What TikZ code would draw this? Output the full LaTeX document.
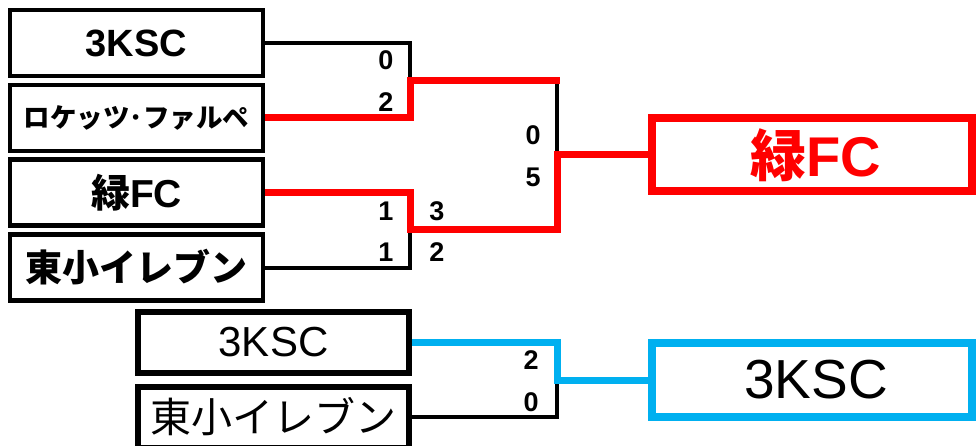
\documentclass[tikz,border=0pt]{standalone}
\usepackage{fontspec}
\setmainfont{Liberation Sans}
\newfontfamily\jp{Noto Sans CJK JP}
\definecolor{wred}{HTML}{FF0000}
\definecolor{wblue}{HTML}{00B0F0}
\begin{document}
\begin{tikzpicture}[x=1pt,y=-1pt,
  team/.style={draw=black,line width=4.5pt,minimum width=253pt,minimum height=66pt,inner sep=0pt,anchor=center},
  teamb/.style={draw=black,line width=6pt,minimum width=271pt,minimum height=61pt,inner sep=0pt,anchor=center},
  champ/.style={line width=8pt,minimum width=320pt,inner sep=0pt,anchor=center},
  lose/.style={draw=black,line width=4pt,line join=miter},
  redw/.style={draw=wred,line width=7pt,line join=miter},
  bluew/.style={draw=wblue,line width=7pt,line join=miter},
  score/.style={inner sep=0pt,anchor=center,font=\bfseries\fontsize{27}{27}\selectfont,text height=19pt,text depth=0pt}]
\useasboundingbox (0,0) rectangle (976,446);
\fill[white] (0,0) rectangle (976,446);
% left boxes
\node[team] (b1) at (136.5,43) {\bfseries\fontsize{38}{40}\selectfont 3KSC};
\node[team] (b2) at (136.5,118) {\jp\bfseries\fontsize{26.5}{28}\selectfont ロケッツ･ファルペ};
\node[team] (b3) at (136.5,192.5) {\bfseries\fontsize{39}{41}\selectfont{\jp 緑}FC};
\node[team] (b4) at (136.5,267.5) {\jp\bfseries\fontsize{37}{39}\selectfont 東小イレブン};
\node[teamb] (b5) at (273.5,342) {\fontsize{42}{44}\selectfont 3KSC};
\node[teamb] (b6) at (273.5,417) {\jp\fontsize{41}{43}\selectfont 東小イレブン};
% champions
\node[champ,draw=wred,minimum height=73pt,text=wred] (f1) at (812,155) {\hspace*{8pt}\bfseries\fontsize{56}{58}\selectfont{\jp 緑}FC};
\node[champ,draw=wblue,minimum height=74pt] (f2) at (812,380) {\hspace*{8pt}\fontsize{55}{57}\selectfont 3KSC};
% junctions
\coordinate (j1) at (410,80.5);
\coordinate (j2) at (410,229.5);
\coordinate (j3) at (557,155);
\coordinate (j4) at (557,380);
\coordinate (j1e) at (560,80.5);
% losers' lines
\draw[lose] (b1.east) -| (j1);
\draw[lose] (b4.east) -| (j2);
\draw[lose] (j1 -| j3) -- (j3);
\draw[lose] (b6.east) -| (j4);
% winners' lines
\draw[redw] (b2.east) -| (j1) -- (j1e);
\draw[redw] (b3.east) -| (j2) -| (j3) -- (f1.west);
\draw[bluew] (b5.east) -| (j4) -- (f2.west);
% scores
\node[score] (s1) at (386,60) {0};
\node[score] (s2) at (386,102) {2};
\node[score] (s3) at (386,211) {1};
\node[score] (s4) at (386,252) {1};
\node[score] (s5) at (437,211) {3};
\node[score] (s6) at (437,252) {2};
\node[score] (s7) at (533,135) {0};
\node[score] (s8) at (533,177) {5};
\node[score] (s9) at (531,360) {2};
\node[score] (s10) at (531,402) {0};
\end{tikzpicture}
\end{document}
